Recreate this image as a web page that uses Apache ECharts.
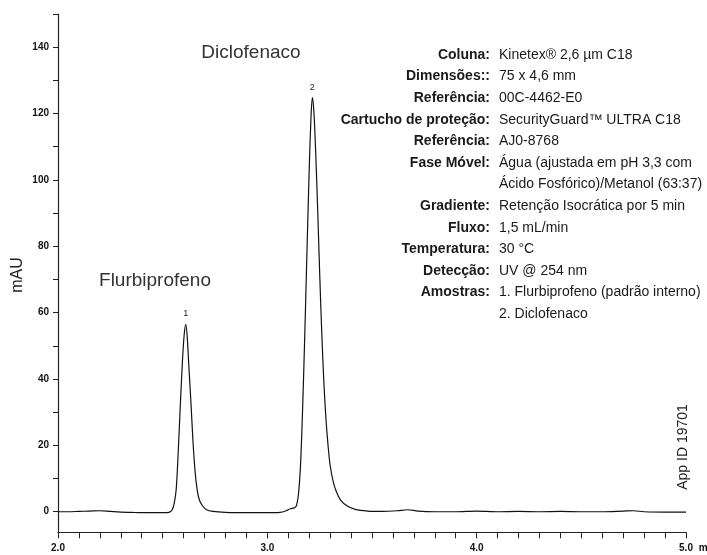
<!DOCTYPE html>
<html>
<head>
<meta charset="utf-8">
<script src="https://cdn.jsdelivr.net/npm/echarts@6/dist/echarts.min.js"></script>
<style>
  html, body { margin: 0; padding: 0; background: #fff; }
  #chart { width: 707px; height: 555px; }
</style>
</head>
<body>
<div id="chart"></div>
<script>
// Chromatogram trace: retention time (min) and absorbance (mAU)
const times = [
  2.00, 2.05, 2.10, 2.15, 2.20, 2.25, 2.30, 2.35, 2.40, 2.45, 2.50, 2.53,
  2.545, 2.555, 2.565, 2.575, 2.585, 2.595, 2.603, 2.610, 2.617, 2.625, 2.635, 2.645,
  2.655, 2.665, 2.675, 2.69, 2.71, 2.74, 2.80, 2.90, 3.00, 3.06, 3.09, 3.11,
  3.13, 3.14, 3.15, 3.16, 3.17, 3.18, 3.19, 3.20, 3.208, 3.215, 3.222, 3.23,
  3.24, 3.25, 3.26, 3.27, 3.28, 3.29, 3.30, 3.315, 3.33, 3.35, 3.38, 3.42,
  3.48, 3.55, 3.62, 3.67, 3.72, 3.80, 3.90, 4.00, 4.10, 4.20, 4.30, 4.40,
  4.50, 4.60, 4.70, 4.75, 4.80, 4.90, 5.00
];
const absorbance = [
  0.0, 0.0, 0.1, 0.2, 0.3, 0.1, -0.1, -0.2, -0.3, -0.3, -0.3, -0.2,
  0.5, 2.5, 7, 19, 33, 46, 53.5, 56.5, 53, 44, 33, 21,
  12, 6.5, 3.6, 1.8, 0.6, 0.1, -0.2, -0.3, -0.3, -0.2, 0.3, 0.9,
  1.2, 2, 6, 16, 34, 56, 80, 103, 118, 124.8, 121, 110,
  92, 72, 54, 39, 28, 20, 14, 9, 6, 3.5, 1.8, 0.7,
  0.2, 0.1, 0.3, 0.6, 0.2, 0.0, 0.0, 0.2, 0.0, 0.1, 0.0, 0.1,
  0.0, 0.0, 0.2, 0.3, 0.0, -0.1, -0.1
];

// Peak identification
const peakNumbers = ['1', '2'];
const peakTimes = [2.610, 3.215];
const peakHeights = [56.5, 124.8];
const compoundNames = ['Flurbiprofeno', 'Diclofenaco'];

// Axis ticks and labels
const xTickValues = [];
for (let i = 20; i <= 50; i++) xTickValues.push(i / 10);
const xLabelValues = [2, 3, 4, 5];
const yTickValues = [0, 10, 20, 30, 40, 50, 60, 70, 80, 90, 100, 110, 120, 130, 140, 150];
const yLabelValues = [0, 20, 40, 60, 80, 100, 120, 140];

// Method conditions
const paramLabels = [
  'Coluna:', 'Dimensões::', 'Referência:', 'Cartucho de proteção:', 'Referência:',
  'Fase Móvel:', '', 'Gradiente:', 'Fluxo:', 'Temperatura:', 'Detecção:', 'Amostras:', ''
];
const paramValues = [
  'Kinetex® 2,6 µm C18', '75 x 4,6 mm', '00C-4462-E0', 'SecurityGuard™ ULTRA C18', 'AJ0-8768',
  'Água (ajustada em pH 3,3 com', 'Ácido Fosfórico)/Metanol (63:37)', 'Retenção Isocrática por 5 min',
  '1,5 mL/min', '30 °C', 'UV @ 254 nm', '1. Flurbiprofeno (padrão interno)', '2. Diclofenaco'
];
const appId = 'App ID 19701';
const yAxisTitle = 'mAU';

const chart = echarts.init(document.getElementById('chart'), null, { renderer: 'canvas' });

const axisColor = '#222';
const sans = '"Liberation Sans", Arial, sans-serif';
const tickFont = { fontFamily: sans, fontWeight: 'bold', fontSize: 10, color: '#111' };

const graphics = [];
const rowTop = 55, rowStep = 21.6, colonX = 490, valueX = 499;
paramLabels.forEach((lab, i) => {
  if (lab) {
    graphics.push({
      type: 'text', x: colonX, y: rowTop + i * rowStep,
      style: { text: lab, align: 'right', verticalAlign: 'middle',
        font: 'bold 14px ' + sans, fill: '#1a1a1a' }
    });
  }
  graphics.push({
    type: 'text', x: valueX, y: rowTop + i * rowStep,
    style: { text: paramValues[i], align: 'left', verticalAlign: 'middle',
      font: '14px ' + sans, fill: '#1a1a1a' }
  });
});
graphics.push({
  type: 'text', x: 155, y: 281,
  style: { text: compoundNames[0], align: 'center', verticalAlign: 'middle',
    font: '19px ' + sans, fill: '#333' }
});
graphics.push({
  type: 'text', x: 251, y: 53,
  style: { text: compoundNames[1], align: 'center', verticalAlign: 'middle',
    font: '19px ' + sans, fill: '#333' }
});
graphics.push({
  type: 'text', x: 683, y: 447, rotation: Math.PI / 2,
  style: { text: appId, align: 'center', verticalAlign: 'middle',
    font: '14px ' + sans, fill: '#222' }
});
graphics.push({
  type: 'text', x: 18, y: 275, rotation: Math.PI / 2,
  style: { text: yAxisTitle, align: 'center', verticalAlign: 'middle',
    font: '16px ' + sans, fill: '#222' }
});

chart.setOption({
  animation: false,
  backgroundColor: '#fff',
  grid: { left: 58, right: 21, top: 14, bottom: 22.7, containLabel: false, outerBoundsMode: 'none' },
  xAxis: {
    type: 'value', min: 2, max: 5,
    axisLine: { onZero: false, lineStyle: { color: axisColor, width: 1.2 } },
    axisTick: { show: true, inside: false, length: 6, customValues: xTickValues,
      lineStyle: { color: axisColor, width: 1 } },
    axisLabel: { customValues: xLabelValues, margin: 11, formatter: v => v.toFixed(1), ...tickFont },
    splitLine: { show: false },
    name: 'min', nameLocation: 'end', nameGap: 12,
    nameTextStyle: { ...tickFont, align: 'left', verticalAlign: 'top', padding: [11, 0, 0, 0] }
  },
  yAxis: {
    type: 'value', min: -6.2, max: 150,
    axisLine: { onZero: false, lineStyle: { color: axisColor, width: 1.2 } },
    axisTick: { show: true, length: 5, customValues: yTickValues,
      lineStyle: { color: axisColor, width: 1 } },
    axisLabel: { customValues: yLabelValues, margin: 9, ...tickFont },
    splitLine: { show: false }
  },
  graphic: graphics,
  series: [{
    type: 'line',
    data: times.map((t, i) => [t, absorbance[i]]),
    smooth: 0.3,
    symbol: 'none',
    lineStyle: { color: '#111', width: 1.2 },
    markPoint: {
      symbol: 'circle', symbolSize: 0,
      label: { show: true, position: 'top', distance: 6, formatter: p => p.name,
        fontFamily: sans, fontSize: 9, color: '#222' },
      data: peakNumbers.map((n, i) => ({ name: n, coord: [peakTimes[i], peakHeights[i]] }))
    }
  }]
});
</script>
</body>
</html>
